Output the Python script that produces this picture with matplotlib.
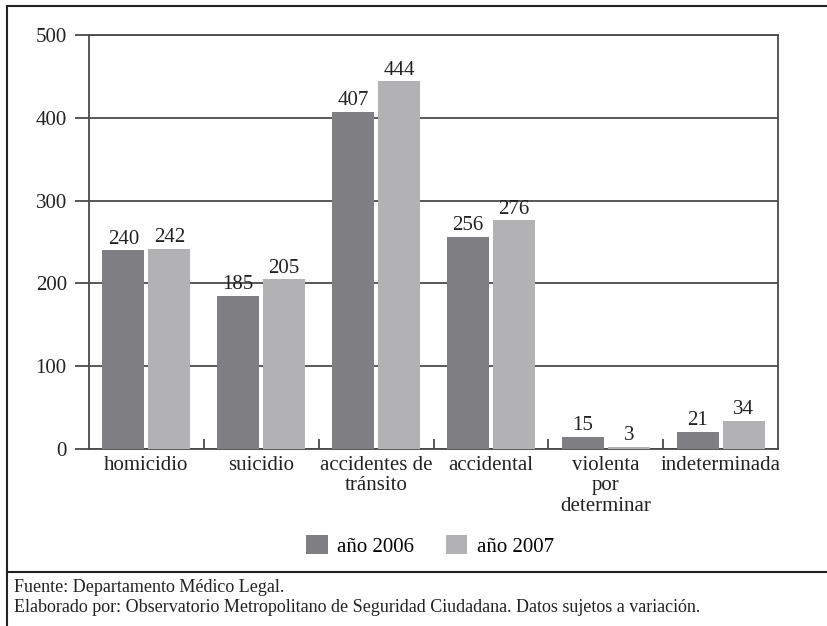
import matplotlib.pyplot as plt
import numpy as np

categories = ["homicidio", "suicidio", "accidentes de\ntránsito", "accidental",
              "violenta\npor\ndeterminar", "indeterminada"]
values_2006 = [240, 185, 407, 256, 15, 21]
values_2007 = [242, 205, 444, 276, 3, 34]
series_labels = ["año 2006", "año 2007"]
yticks = [0, 100, 200, 300, 400, 500]
footer_lines = [
    "Fuente: Departamento Médico Legal.",
    "Elaborado por: Observatorio Metropolitano de Seguridad Ciudadana. Datos sujetos a variación.",
]

DARK = "#7f7f83"
LIGHT = "#b2b2b5"
LINE = "#4a4a4a"
TEXT = "#222222"
FS = 15

plt.rcParams["font.family"] = ["Liberation Serif", "DejaVu Serif"]

fig = plt.figure(figsize=(8.28, 6.26), dpi=100)
ax = fig.add_axes([89 / 828, 1 - 449 / 626, (778 - 89) / 828, (449 - 35) / 626])

x = np.arange(len(categories))
w = 0.366
off = 0.2
b1 = ax.bar(x - off, values_2006, w, color=DARK, label=series_labels[0], zorder=3)
b2 = ax.bar(x + off, values_2007, w, color=LIGHT, label=series_labels[1], zorder=3)

for bars, vals in ((b1, values_2006), (b2, values_2007)):
    for rect, v in zip(bars, vals):
        ax.text(rect.get_x() + rect.get_width() / 2, v + 2, str(v),
                ha="center", va="bottom", fontsize=FS, color=TEXT)

ax.set_xlim(-0.5, len(categories) - 0.5)
ax.set_ylim(0, 500)
ax.set_yticks(yticks)
ax.set_yticklabels([str(t) for t in yticks], fontsize=FS, color=TEXT)
ax.tick_params(axis="y", length=10, width=1.3, color=LINE, pad=6)
ax.yaxis.grid(True, color=LINE, linewidth=1.3, zorder=0)

# category separators drawn as short inward ticks on the baseline
ax.set_xticks(x[:-1] + 0.5, minor=True)
ax.tick_params(axis="x", which="minor", direction="in", length=7, width=1.3, color=LINE)
ax.set_xticks(x)
ax.set_xticklabels(categories, fontsize=FS, color=TEXT, linespacing=1.1)
ax.tick_params(axis="x", which="major", length=0, pad=5)

for side in ("left", "bottom", "right", "top"):
    ax.spines[side].set_color(LINE)
    ax.spines[side].set_linewidth(1.3)

fig.legend(handles=[b1, b2], labels=series_labels, loc="center",
           bbox_to_anchor=(430 / 828, 1 - 546 / 626), ncol=2, frameon=False,
           fontsize=FS, handlelength=1.05, handleheight=1.05,
           columnspacing=1.5, handletextpad=0.45)

# outer frame: top rule, left rule, footer separator
fig.add_artist(plt.Line2D([7 / 828, 1], [1 - 6 / 626] * 2, color=TEXT, lw=1.5))
fig.add_artist(plt.Line2D([7 / 828] * 2, [0, 1 - 6 / 626], color=TEXT, lw=1.5))
fig.add_artist(plt.Line2D([7 / 828, 1], [1 - 572 / 626] * 2, color=TEXT, lw=1.5))

for i, line in enumerate(footer_lines):
    fig.text(14 / 828, 1 - (588 + 19 * i) / 626, line, fontsize=13,
             ha="left", va="center", color=TEXT)

fig.savefig("out.png", dpi=100)
